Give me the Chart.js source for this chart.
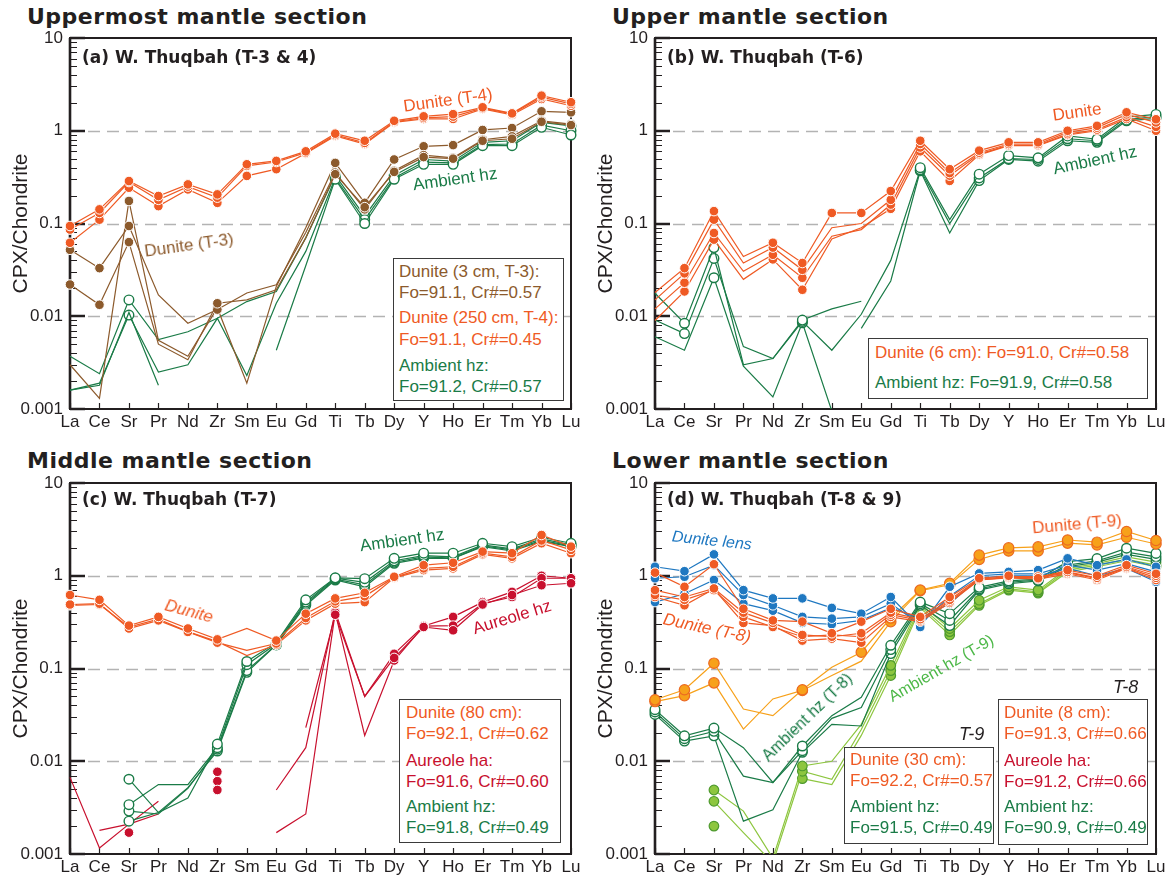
<!DOCTYPE html>
<html><head><meta charset="utf-8">
<script src="https://cdn.jsdelivr.net/npm/chart.js@4.4.1/dist/chart.umd.min.js"></script>
<style>
html,body{margin:0;padding:0;background:#fff;width:1174px;height:875px;overflow:hidden;font-family:"Liberation Sans",Arial,sans-serif;}
.cv{position:absolute;}
.ttl{position:absolute;font-family:"DejaVu Sans";font-weight:bold;font-size:22px;line-height:22px;letter-spacing:0.5px;color:#231f20;white-space:nowrap;}
.plab{position:absolute;font-family:"DejaVu Sans";font-weight:bold;font-size:17px;line-height:17px;color:#231f20;white-space:nowrap;}
.ann{position:absolute;font-size:17px;line-height:17px;white-space:nowrap;}
.leg{position:absolute;border:1px solid #3a3a3a;background:#fff;font-size:17px;box-sizing:border-box;}
.leg div{position:absolute;white-space:nowrap;line-height:20px;}
</style></head><body>
<div class="ttl" style="left:27px;top:6px">Uppermost mantle section</div>
<div class="ttl" style="left:612px;top:6px">Upper mantle section</div>
<div class="ttl" style="left:27px;top:450px">Middle mantle section</div>
<div class="ttl" style="left:612px;top:450px">Lower mantle section</div>
<canvas id="ca" class="cv" width="587" height="430" style="left:0;top:0"></canvas>
<canvas id="cb" class="cv" width="587" height="430" style="left:585px;top:0"></canvas>
<canvas id="cc" class="cv" width="587" height="430" style="left:0;top:445px"></canvas>
<canvas id="cd" class="cv" width="587" height="430" style="left:585px;top:445px"></canvas>
<div id="over"></div>
<script>
// ---------- categories & ticks ----------
const categories = ['La','Ce','Sr','Pr','Nd','Zr','Sm','Eu','Gd','Ti','Tb','Dy','Y','Ho','Er','Tm','Yb','Lu'];
const yTickValues = [0.001, 0.01, 0.1, 1, 10];
const yTickLabels = ['0.001', '0.01', '0.1', '1', '10'];

// ---------- (a) W. Thuqbah T-3 & 4 ----------
const a_dun4_1 = [0.094,0.142,0.287,0.198,0.264,0.206,0.435,0.473,0.60,0.93,0.78,1.28,1.43,1.51,1.79,1.54,2.39,2.03];
const a_dun4_2 = [0.086,0.13,0.28,0.18,0.25,0.19,0.418,0.46,0.58,0.90,0.74,1.25,1.38,1.42,1.75,1.52,2.30,1.95];
const a_dun4_3 = [0.062,0.11,0.243,0.154,0.233,0.167,0.326,0.385,0.57,0.88,0.72,1.23,1.34,1.34,1.72,1.48,2.20,1.86];
const a_dun3_1 = [0.003,0.0013,0.175,0.0055,0.0037,0.0123,0.0019,0.021,0.09,0.45,0.167,0.49,0.68,0.70,1.02,1.07,1.62,1.58];
const a_dun3_2 = [0.052,0.033,0.094,0.017,0.0084,0.0118,0.0178,0.0218,0.08,0.354,0.142,0.37,0.545,0.51,0.80,0.87,1.28,1.18];
const a_dun3_3 = [0.022,0.0133,0.063,0.005,0.0034,0.0138,0.015,0.0193,0.07,0.34,0.15,0.36,0.52,0.50,0.78,0.82,1.25,1.15];
const a_amb_1 = [0.0037,0.0024,0.015,0.0056,0.0068,0.0095,0.0144,0.0185,0.07,0.33,0.12,0.33,0.49,0.47,0.75,0.78,1.23,1.13];
const a_amb_2 = [0.0016,0.0019,0.0103,0.0025,0.003,0.0095,0.0023,0.0138,0.05,0.31,0.11,0.31,0.46,0.45,0.71,0.72,1.15,1.0];
const a_amb_3 = [0.0016,0.0018,0.011,0.0018,null,null,null,0.0043,0.035,0.30,0.10,0.30,0.435,0.435,0.69,0.69,1.09,0.90];

// ---------- (b) W. Thuqbah T-6 ----------
const b_dun_1 = [0.018,0.033,0.136,0.044,0.062,0.0375,0.13,0.13,0.224,0.78,0.385,0.61,0.75,0.75,1.0,1.13,1.58,1.33];
const b_dun_2 = [0.015,0.029,0.11,0.0375,0.055,0.0317,0.09,0.10,0.18,0.72,0.35,0.58,0.72,0.72,0.96,1.08,1.50,1.23];
const b_dun_3 = [0.012,0.023,0.079,0.0305,0.046,0.026,0.073,0.086,0.16,0.66,0.328,0.56,0.70,0.70,0.92,1.03,1.40,1.10];
const b_dun_4 = [0.009,0.0185,0.067,0.025,0.041,0.0193,0.068,0.09,0.144,0.60,0.288,0.55,0.69,0.69,0.90,1.0,1.34,1.0];
const b_amb_1 = [0.0177,0.0084,0.055,0.003,0.0035,0.0091,0.012,0.0145,null,0.40,0.11,0.34,0.54,0.51,0.88,0.81,1.40,1.50];
const b_amb_2 = [0.0091,0.0065,0.042,0.0047,0.0035,0.0088,0.0043,0.0105,0.04,0.38,0.10,0.31,0.50,0.49,0.82,0.78,1.32,1.42];
const b_amb_3 = [0.006,0.0043,0.026,0.0029,0.00135,0.0085,0.00095,null,null,null,null,null,null,null,null,null,null,null];
const b_amb_4 = [null,null,null,null,null,null,null,0.0074,0.024,0.37,0.079,0.29,0.49,0.47,0.78,0.75,1.28,1.36];

// ---------- (c) W. Thuqbah T-7 ----------
const c_dun_1 = [0.62,0.55,0.29,0.36,0.27,0.206,0.27,0.20,0.39,0.57,0.655,0.975,1.30,1.38,1.82,1.75,2.75,2.06];
const c_dun_2 = [0.49,0.50,0.27,0.33,0.248,0.19,0.157,0.186,0.35,0.53,0.60,0.96,1.20,1.25,1.75,1.60,2.40,1.90];
const c_dun_3 = [0.48,0.49,0.28,0.34,0.25,0.195,0.138,0.18,0.33,0.50,0.52,0.95,1.15,1.20,1.70,1.54,2.24,1.75];
const c_amb_1 = [null,null,0.0064,0.0028,0.004,0.0153,0.119,0.19,0.55,0.95,0.93,1.54,1.75,1.75,2.24,2.06,2.60,2.24];
const c_amb_2 = [null,null,0.0034,0.0056,0.0056,0.014,0.11,0.185,0.52,0.94,0.85,1.45,1.65,1.60,2.15,1.95,2.50,2.15];
const c_amb_3 = [null,null,0.0029,0.0027,0.0051,0.0135,0.095,0.18,0.50,0.92,0.80,1.40,1.60,1.55,2.10,1.90,2.40,2.10];
const c_amb_4 = [null,null,0.00226,0.0028,0.0052,0.0129,0.091,0.18,0.48,0.90,0.76,1.36,1.55,1.54,2.06,1.85,2.35,2.06];
const c_aur_1 = [0.0067,0.00116,0.0021,0.0037,null,0.0061,null,0.0049,0.014,0.41,0.05,0.144,0.287,0.36,0.52,0.67,1.0,0.94];
const c_aur_2 = [null,0.0018,0.0021,0.0027,null,0.0049,null,0.0017,0.0027,0.40,0.019,0.122,0.287,0.29,0.50,0.59,0.94,0.94];
const c_aur_3 = [null,null,0.0017,null,null,0.0077,null,null,0.023,0.38,0.05,0.13,0.28,0.258,0.49,0.62,0.79,0.83];

// ---------- (d) W. Thuqbah T-8 & 9 ----------
const d_lens_1 = [1.25,1.12,1.70,0.70,0.57,0.57,0.45,0.39,0.59,0.28,0.76,1.06,1.10,1.15,1.54,1.30,1.50,1.25];
const d_lens_2 = [0.94,0.975,1.30,0.62,0.48,0.36,0.345,0.36,0.50,0.30,0.60,1.0,1.05,1.05,1.30,1.15,1.35,1.10];
const d_lens_3 = [0.52,0.64,0.90,0.50,0.42,0.31,0.30,0.33,0.45,0.35,0.50,0.95,1.0,1.0,1.20,1.0,1.20,0.86];
const d_dun8_1 = [1.08,0.76,1.33,0.44,0.33,0.32,0.24,0.32,0.44,0.36,0.59,0.94,1.0,0.94,1.15,1.0,1.30,1.05];
const d_dun8_2 = [0.70,0.59,0.73,0.40,0.31,0.23,0.22,0.24,0.40,0.34,0.55,0.92,0.98,0.98,1.10,0.95,1.25,1.0];
const d_dun8_3 = [0.59,0.48,0.72,0.31,0.29,0.20,0.21,0.19,0.36,0.32,0.51,0.90,0.95,0.92,1.05,0.90,1.20,0.90];
const d_dun8_4 = [0.62,0.55,0.70,0.36,0.28,0.22,0.23,0.22,0.38,0.33,0.53,0.90,0.96,0.95,1.08,0.93,1.22,0.95];
const d_dun9_1 = [0.046,0.059,0.114,0.0366,0.031,0.059,0.103,0.15,0.35,0.70,0.83,1.67,2.0,2.05,2.43,2.30,3.0,2.40];
const d_dun9_2 = [0.044,0.051,0.07,0.0222,0.047,0.058,0.084,0.12,0.32,0.69,0.80,1.50,1.85,1.85,2.25,2.15,2.60,2.20];
const d_amb8_1 = [0.036,0.0188,0.0228,0.014,0.0059,0.0146,0.031,0.049,0.178,0.52,0.39,0.75,0.88,0.92,1.42,1.53,1.98,1.74];
const d_amb8_2 = [0.034,0.0175,0.021,0.0069,0.0059,0.013,0.029,0.038,0.16,0.50,0.33,0.72,0.85,0.90,1.30,1.45,1.80,1.60];
const d_amb8_3 = [0.032,0.0165,0.0188,0.00226,0.003,0.0125,0.025,0.024,0.145,0.48,0.29,0.70,0.82,0.88,1.25,1.40,1.70,1.50];
const d_amb9_1 = [null,null,0.0049,0.0029,0.0009,0.0089,0.01,0.025,0.108,0.50,0.27,0.545,0.76,0.70,1.20,1.35,1.60,1.40];
const d_amb9_2 = [null,null,0.0037,0.0017,0.0008,0.0078,0.0064,0.022,0.095,0.47,0.25,0.50,0.72,0.67,1.15,1.30,1.50,1.30];
const d_amb9_3 = [null,null,0.002,null,null,0.0065,0.0056,0.019,0.084,0.45,0.23,0.48,0.70,0.65,1.10,1.25,1.45,1.25];

// ---------- marker masks (which elements carry a symbol) ----------
const MK_ALL = [1,1,1,1,1,1,1,1,1,1,1,1,1,1,1,1,1,1];
const mA_br1 = [0,0,1,0,0,1,0,0,0,1,1,1,1,1,1,1,1,1];
const mA_br2 = [1,1,1,0,0,1,0,0,0,1,1,1,1,1,1,1,1,1];
const mA_gr1 = [0,0,1,0,0,0,0,0,0,1,1,1,1,1,1,1,1,1];
const mA_gr3 = [0,0,0,0,0,0,0,0,0,1,1,1,1,1,1,1,1,1];
const mB_or1 = [0,1,1,0,1,1,1,1,1,1,1,1,1,1,1,1,1,1];
const mB_or = [0,1,1,0,1,1,0,0,1,1,1,1,1,1,1,1,1,1];
const mB_gr = [0,1,1,0,0,1,0,0,0,1,0,1,1,1,1,1,1,1];
const mB_gr3 = [0,0,1,0,0,1,0,0,0,0,0,0,0,0,0,0,0,0];
const mB_gr4 = [0,0,0,0,0,0,0,0,0,1,0,1,1,1,1,1,1,1];
const mC_or = [1,1,1,1,1,1,0,1,1,1,1,1,1,1,1,1,1,1];
const mC_gr = [0,0,1,0,0,1,1,1,1,1,1,1,1,1,1,1,1,1];
const mC_cr = [0,0,0,0,0,1,0,0,0,1,0,1,1,1,1,1,1,1];
const mC_cr3 = [0,0,1,0,0,1,0,0,0,1,0,1,1,1,1,1,1,1];
const mD_lo1 = [1,1,1,0,0,1,0,1,1,1,1,1,1,1,1,1,1,1];
const mD_lo2 = [1,1,1,0,0,1,0,0,1,1,1,1,1,1,1,1,1,1];
const mD_dg = [1,1,1,0,0,1,0,0,1,1,1,1,1,1,1,1,1,1];
const mD_lg = [0,0,1,0,0,1,0,0,1,0,1,1,1,1,1,1,1,1];

// ---------- colours / styles ----------
const OR = '#EF5A24', BR = '#8C5A2C', GR = '#1A7B47', CR = '#C8102E', BL = '#1F78C1', LO = '#F7A11A', LG = '#8DC63F', INK = '#231F20';
const S = {
  or: {line: OR, fill: OR, edge: '#ffffff', ew: 1, r: 4.8},
  br: {line: BR, fill: BR, edge: '#ffffff', ew: 1, r: 4.8},
  gr: {line: GR, fill: '#ffffff', edge: GR, ew: 1.4, r: 4.8},
  cr: {line: CR, fill: CR, edge: '#ffffff', ew: 1, r: 4.8},
  bl: {line: BL, fill: BL, edge: '#ffffff', ew: 1, r: 4.8},
  lo: {line: LO, fill: LO, edge: '#EC6A22', ew: 1.2, r: 5.2},
  lg: {line: LG, fill: LG, edge: '#4E9A2E', ew: 1.2, r: 4.8}
};

function ds(data, marks, st) {
  return {
    data: data, marks: marks,
    borderColor: st.line, borderWidth: 1.2, tension: 0, spanGaps: false,
    pointRadius: c => (c.dataset.marks[c.dataIndex] && c.raw != null) ? st.r : 0,
    pointBackgroundColor: st.fill, pointBorderColor: st.edge, pointBorderWidth: st.ew,
    clip: {left: 10, right: 10, top: 10, bottom: 0}
  };
}

const framePlugin = {
  id: 'frame',
  beforeDatasetsDraw(chart) {
    const {ctx, chartArea: a, scales: {x, y}} = chart;
    ctx.save();
    // dashed grid at inner decades
    ctx.strokeStyle = '#B3B3B3'; ctx.lineWidth = 1.3; ctx.setLineDash([12, 7]);
    yTickValues.slice(1, -1).forEach(v => {
      const py = Math.round(y.getPixelForValue(v)) + 0.5;
      ctx.beginPath(); ctx.moveTo(a.left + 18, py); ctx.lineTo(a.right, py); ctx.stroke();
    });
    ctx.setLineDash([]);
    ctx.strokeStyle = INK;
    // minor ticks
    ctx.lineWidth = 1;
    yTickValues.slice(0, -1).forEach(d => {
      for (let k = 2; k <= 9; k++) {
        const py = Math.round(y.getPixelForValue(k * d)) + 0.5;
        ctx.beginPath(); ctx.moveTo(a.left, py); ctx.lineTo(a.left + 7, py); ctx.stroke();
      }
    });
    // major ticks
    ctx.lineWidth = 2.5;
    yTickValues.forEach(v => {
      const py = Math.round(y.getPixelForValue(v));
      ctx.beginPath(); ctx.moveTo(a.left, py); ctx.lineTo(a.left + 15, py); ctx.stroke();
    });
    // x ticks
    ctx.lineWidth = 1.2;
    categories.forEach((c, i) => {
      const px = Math.round(x.getPixelForValue(i)) + 0.5;
      ctx.beginPath(); ctx.moveTo(px, a.bottom); ctx.lineTo(px, a.bottom - 6); ctx.stroke();
    });
    // frame
    ctx.lineWidth = 2;
    ctx.strokeRect(a.left, a.top, a.right - a.left, a.bottom - a.top);
    ctx.lineWidth = 2.6;
    ctx.beginPath(); ctx.moveTo(a.left, a.top); ctx.lineTo(a.left, a.bottom); ctx.stroke();
    ctx.restore();
  }
};

Chart.defaults.font.family = '"Liberation Sans", Arial, sans-serif';
Chart.defaults.color = INK;

function makeChart(id, list) {
  const datasets = list.map(s => ds(s[0], s[1], s[2])).reverse(); // first listed = drawn at bottom
  return new Chart(document.getElementById(id), {
    type: 'line',
    data: {labels: categories, datasets: datasets},
    plugins: [framePlugin],
    options: {
      responsive: false, animation: false, events: [],
      layout: {padding: {top: 38, right: 16, left: 0, bottom: 0}},
      plugins: {legend: {display: false}, tooltip: {enabled: false}},
      scales: {
        x: {
          type: 'category', offset: false,
          grid: {display: false, drawTicks: false}, border: {display: false},
          ticks: {font: {size: 17}, color: INK, padding: 3, autoSkip: false, maxRotation: 0},
          afterFit: s => { s.height = 21; }
        },
        y: {
          type: 'logarithmic', min: 0.001, max: 10,
          grid: {display: false, drawTicks: false}, border: {display: false},
          afterBuildTicks: s => { s.ticks = yTickValues.map(v => ({value: v})); },
          ticks: {font: {size: 17}, color: INK, padding: 7, autoSkip: false,
                  callback: (v, i) => yTickLabels[i]},
          title: {display: true, text: 'CPX/Chondrite', font: {size: 21}, color: INK, padding: {top: 9, bottom: 0}},
          afterFit: s => { s.width = 70; }
        }
      }
    }
  });
}

makeChart('ca', [
  [a_amb_1, mA_gr1, S.gr], [a_amb_2, mA_gr1, S.gr], [a_amb_3, mA_gr3, S.gr],
  [a_dun3_1, mA_br1, S.br], [a_dun3_2, mA_br2, S.br], [a_dun3_3, mA_br2, S.br],
  [a_dun4_3, MK_ALL, S.or], [a_dun4_2, MK_ALL, S.or], [a_dun4_1, MK_ALL, S.or]
]);
makeChart('cb', [
  [b_amb_3, mB_gr3, S.gr], [b_amb_4, mB_gr4, S.gr], [b_amb_2, mB_gr, S.gr], [b_amb_1, mB_gr, S.gr],
  [b_dun_4, mB_or, S.or], [b_dun_3, mB_or, S.or], [b_dun_2, mB_or, S.or], [b_dun_1, mB_or1, S.or]
]);
makeChart('cc', [
  [c_aur_1, mC_cr, S.cr], [c_aur_2, mC_cr, S.cr], [c_aur_3, mC_cr3, S.cr],
  [c_amb_4, mC_gr, S.gr], [c_amb_3, mC_gr, S.gr], [c_amb_2, mC_gr, S.gr], [c_amb_1, mC_gr, S.gr],
  [c_dun_3, mC_or, S.or], [c_dun_2, mC_or, S.or], [c_dun_1, mC_or, S.or]
]);
makeChart('cd', [
  [d_amb9_3, mD_lg, S.lg], [d_amb9_2, mD_lg, S.lg], [d_amb9_1, mD_lg, S.lg],
  [d_amb8_3, mD_dg, S.gr], [d_amb8_2, mD_dg, S.gr], [d_amb8_1, mD_dg, S.gr],
  [d_dun9_2, mD_lo2, S.lo], [d_dun9_1, mD_lo1, S.lo],
  [d_lens_3, MK_ALL, S.bl], [d_lens_2, MK_ALL, S.bl], [d_lens_1, MK_ALL, S.bl],
  [d_dun8_3, MK_ALL, S.or], [d_dun8_4, MK_ALL, S.or], [d_dun8_2, MK_ALL, S.or], [d_dun8_1, MK_ALL, S.or]
]);

// ---------- overlay text: panel labels, curve labels, legends ----------
const over = document.getElementById('over');
function el(cls, html, css) { const d = document.createElement('div'); d.className = cls; d.innerHTML = html; Object.assign(d.style, css); over.appendChild(d); return d; }
[['(a) W. Thuqbah (T-3 &amp; 4)', 82, 49], ['(b) W. Thuqbah (T-6)', 667, 49],
 ['(c) W. Thuqbah (T-7)', 82, 491], ['(d) W. Thuqbah (T-8 &amp; 9)', 667, 491]]
 .forEach(p => el('plab', p[0], {left: p[1] + 'px', top: p[2] + 'px'}));

function ann(text, cx, cy, rot, color, italic, size) {
  el('ann', text, {left: cx + 'px', top: cy + 'px', color: color, fontStyle: italic ? 'italic' : 'normal',
    fontSize: (size || 17) + 'px', transform: 'translate(-50%,-50%) rotate(' + rot + 'deg)'});
}
ann('Dunite (T-4)', 448, 100, -8, OR);
ann('Dunite (T-3)', 189, 245, -8, BR);
ann('Ambient hz', 455, 179, -8, GR);
ann('Dunite', 1077, 112, -8, OR);
ann('Ambient hz', 1095, 160, -12, GR);
ann('Ambient hz', 402, 540, -8, GR);
ann('Dunite', 189, 611, 15, OR, true);
ann('Aureole hz', 512, 617, -17, CR);
ann('Dunite lens', 712, 540, 6, BL, true, 16);
ann('Dunite (T-8)', 707, 628, 12, OR, true);
ann('Ambient hz (T-8)', 807, 717, -44, GR, false, 16);
ann('Ambient hz (T-9)', 941, 668, -30, '#4DB848', false, 16);
ann('Dunite (T-9)', 1077, 524, -5, OR);
el('ann', 'T-8', {left: '1113px', top: '679px', color: INK, fontStyle: 'italic', fontSize: '18px'});
el('ann', 'T-9', {left: '959px', top: '726px', color: INK, fontStyle: 'italic', fontSize: '18px'});

function legend(x, y, w, h, tx, lines) {
  const box = el('leg', '', {left: x + 'px', top: y + 'px', width: w + 'px', height: h + 'px'});
  lines.forEach(l => {
    const d = document.createElement('div');
    d.textContent = l[0]; d.style.color = l[1];
    d.style.left = (tx - x - 1) + 'px'; d.style.top = (l[2] - y - 11) + 'px';
    box.appendChild(d);
  });
}
legend(393, 258, 171, 143, 399, [
  ['Dunite (3 cm, T-3):', BR, 272], ['Fo=91.1, Cr#=0.57', BR, 293],
  ['Dunite (250 cm, T-4):', OR, 318], ['Fo=91.1, Cr#=0.45', OR, 340],
  ['Ambient hz:', GR, 366], ['Fo=91.2, Cr#=0.57', GR, 387]]);
legend(868, 338, 280, 61, 875, [
  ['Dunite (6 cm): Fo=91.0, Cr#=0.58', OR, 353], ['Ambient hz: Fo=91.9, Cr#=0.58', GR, 383]]);
legend(399, 699, 162, 144, 406, [
  ['Dunite (80 cm):', OR, 713], ['Fo=92.1, Cr#=0.62', OR, 734],
  ['Aureole ha:', CR, 761], ['Fo=91.6, Cr#=0.60', CR, 782],
  ['Ambient hz:', GR, 807], ['Fo=91.8, Cr#=0.49', GR, 828]]);
legend(998, 699, 150, 146, 1004, [
  ['Dunite (8 cm):', OR, 713], ['Fo=91.3, Cr#=0.66', OR, 734],
  ['Aureole ha:', CR, 761], ['Fo=91.2, Cr#=0.66', CR, 782],
  ['Ambient hz:', GR, 807], ['Fo=90.9, Cr#=0.49', GR, 828]]);
legend(844, 747, 150, 97, 850, [
  ['Dunite (30 cm):', OR, 760], ['Fo=92.2, Cr#=0.57', OR, 781],
  ['Ambient hz:', GR, 807], ['Fo=91.5, Cr#=0.49', GR, 828]]);
</script>
</body></html>
